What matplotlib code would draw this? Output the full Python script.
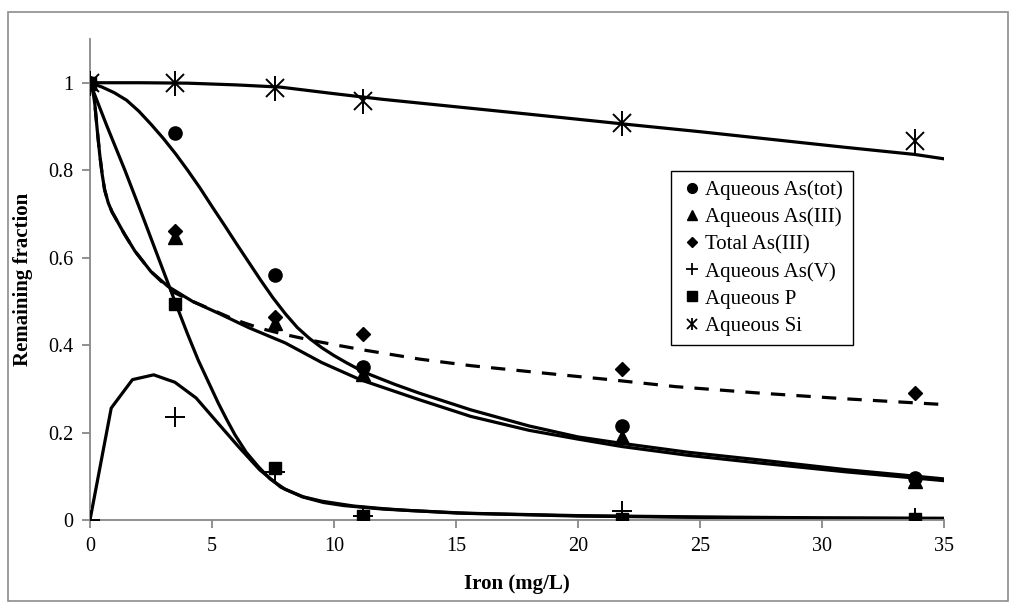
import matplotlib.pyplot as plt
from matplotlib.patches import Rectangle
from matplotlib.legend_handler import HandlerTuple

plt.rcParams['font.family'] = ['Liberation Serif', 'DejaVu Serif']

# measured points
iron = [0, 3.5, 7.6, 11.2, 21.8, 33.8]
as_tot = [1.0, 0.885, 0.56, 0.35, 0.215, 0.095]
as_iii = [1.0, 0.648, 0.45, 0.335, 0.19, 0.09]
total_as_iii = [1.0, 0.66, 0.465, 0.425, 0.345, 0.29]
as_v = [0.0, 0.235, 0.11, 0.01, 0.02, 0.005]
aq_p = [1.0, 0.495, 0.12, 0.01, 0.003, 0.002]
aq_si = [1.0, 1.0, 0.988, 0.958, 0.908, 0.866]

# model curves
si_fit_x = [0, 2, 4, 6, 7.8, 10, 12, 15, 18, 21.8, 25, 28, 31, 33.8, 35]
si_fit_y = [1.0, 1.0, 0.999, 0.995, 0.99, 0.975, 0.962, 0.945, 0.928, 0.906,
            0.888, 0.87, 0.852, 0.836, 0.826]

tot_fit_x = [0, 0.5, 1, 1.5, 2, 2.5, 3, 3.5, 4, 4.5, 5, 5.5, 6, 6.5, 7, 7.5, 8,
             8.5, 9, 9.5, 10, 10.5, 11, 11.5, 12.5, 13.5, 15.6, 18, 20, 21.7,
             24.5, 27.5, 31, 35]
tot_fit_y = [1.0, 0.99, 0.977, 0.96, 0.935, 0.905, 0.873, 0.838, 0.8, 0.76,
             0.717, 0.675, 0.632, 0.59, 0.548, 0.508, 0.472, 0.44, 0.415, 0.394,
             0.376, 0.36, 0.345, 0.332, 0.31, 0.29, 0.252, 0.215, 0.19, 0.176,
             0.155, 0.137, 0.115, 0.094]

iii_fit_x = [0, 0.1, 0.2, 0.3, 0.4, 0.5, 0.6, 0.75, 0.9, 1.1, 1.4, 1.84, 2.5,
             3.2, 4.2, 5.26, 6.5, 8.0, 9.5, 11.07, 13.5, 15.6, 18, 20, 21.8,
             24.5, 27.5, 31, 35]
iii_fit_y = [1.0, 0.99, 0.95, 0.89, 0.835, 0.79, 0.755, 0.725, 0.705, 0.685,
             0.655, 0.615, 0.568, 0.534, 0.5, 0.473, 0.44, 0.405, 0.36, 0.321,
             0.275, 0.237, 0.205, 0.185, 0.168, 0.148, 0.13, 0.11, 0.09]

totiii_fit_x = [0, 0.1, 0.2, 0.3, 0.4, 0.5, 0.6, 0.75, 0.9, 1.1, 1.4, 1.84, 2.5,
                3.35, 4.2, 4.99, 5.94, 7.0, 8.0, 9.15, 10.2, 11.3, 13.5, 15.6,
                19.3, 21.3, 24, 27.5, 31, 35]
totiii_fit_y = [1.0, 0.99, 0.95, 0.89, 0.835, 0.79, 0.755, 0.725, 0.705, 0.685,
                0.655, 0.615, 0.568, 0.523, 0.5, 0.481, 0.458, 0.438, 0.424,
                0.41, 0.399, 0.388, 0.368, 0.353, 0.332, 0.321, 0.305, 0.29,
                0.277, 0.264]

p_fit_x = [0, 0.7, 1.43, 2.19, 2.8, 3.48, 4.0, 4.44, 4.9, 5.26, 5.6, 5.94, 6.4,
           6.9, 7.38, 8.0, 8.74, 9.5, 10.8, 12, 13, 15.6, 20, 25, 30, 35]
p_fit_y = [1.0, 0.9, 0.8, 0.69, 0.6, 0.5, 0.425, 0.365, 0.31, 0.267, 0.23,
           0.195, 0.155, 0.122, 0.094, 0.07, 0.053, 0.043, 0.032, 0.026, 0.022,
           0.015, 0.009, 0.006, 0.004, 0.003]

v_fit_x = [0, 0.87, 1.74, 2.61, 3.48, 4.35, 5.22, 6.08, 6.95, 7.82, 8.7, 9.57,
           10.4, 12, 15, 20, 25, 30, 35]
v_fit_y = [0.0, 0.256, 0.321, 0.332, 0.315, 0.279, 0.223, 0.168, 0.115, 0.075,
           0.053, 0.04, 0.033, 0.025, 0.016, 0.01, 0.007, 0.005, 0.004]

fig = plt.figure(figsize=(10.16, 6.09), dpi=100)
ax = fig.add_axes([90 / 1016, 89 / 609, 854 / 1016, 481 / 609])

# chart area border
fig.patches.append(Rectangle((8 / 1016, 8 / 609), 1000 / 1016, 589 / 609,
                             transform=fig.transFigure, fill=False,
                             edgecolor='#8c8c8c', linewidth=1.2))

lw = 2.3
for fx, fy in [(si_fit_x, si_fit_y), (tot_fit_x, tot_fit_y), (iii_fit_x, iii_fit_y),
               (p_fit_x, p_fit_y), (v_fit_x, v_fit_y)]:
    ax.plot(fx, fy, color='black', lw=lw, solid_joinstyle='round', zorder=2)
ax.plot(totiii_fit_x, totiii_fit_y, color='black', lw=lw, ls=(0, (4.5, 3.5)), zorder=2)

ax.plot(iron, as_tot, 'o', color='black', ms=9.5, ls='none', zorder=3)
ax.plot(iron, as_iii, '^', color='black', ms=9.5, ls='none', zorder=3)
ax.plot(iron, total_as_iii, 'D', color='black', ms=7, ls='none', zorder=3)
ax.plot(iron, as_v, '+', color='black', ms=14, mew=1.4, ls='none', zorder=3)
ax.plot(iron, aq_p, 's', color='black', ms=8.5, ls='none', zorder=3)
ax.plot(iron, aq_si, 'x', color='black', ms=13, mew=1.4, ls='none', zorder=3)
ax.plot(iron, aq_si, '|', color='black', ms=18, mew=1.4, ls='none', zorder=3)

ax.set_xlim(0, 35)
ax.set_ylim(0, 1.1)
ax.set_xticks(range(0, 36, 5))
ax.set_yticks([0, 0.2, 0.4, 0.6, 0.8, 1.0])
ax.set_yticklabels(['0', '0.2', '0.4', '0.6', '0.8', '1'])
for s in ['top', 'right']:
    ax.spines[s].set_visible(False)
for s in ['left', 'bottom']:
    ax.spines[s].set_color('#888888')
    ax.spines[s].set_linewidth(1.3)
ax.tick_params(direction='out', length=6, width=1.3, color='#888888',
               labelsize=14.5, pad=6)
ax.set_xlabel('Iron (mg/L)', fontsize=15, fontweight='bold', labelpad=13)
ax.set_ylabel('Remaining fraction', fontsize=15, fontweight='bold', labelpad=11)

# legend with small marker-only handles
lh_tot, = ax.plot([], [], 'o', color='black', ms=7)
lh_iii, = ax.plot([], [], '^', color='black', ms=7)
lh_totiii, = ax.plot([], [], 'D', color='black', ms=5.5)
lh_v, = ax.plot([], [], '+', color='black', ms=9, mew=1.3)
lh_p, = ax.plot([], [], 's', color='black', ms=7)
lh_si1, = ax.plot([], [], 'x', color='black', ms=7, mew=1.3)
lh_si2, = ax.plot([], [], '|', color='black', ms=9, mew=1.3)

leg = ax.legend([lh_tot, lh_iii, lh_totiii, lh_v, lh_p, (lh_si1, lh_si2)],
                ['Aqueous As(tot)', 'Aqueous As(III)', 'Total As(III)',
                 'Aqueous As(V)', 'Aqueous P', 'Aqueous Si'],
                handler_map={tuple: HandlerTuple(ndivide=1, pad=0)},
                loc='upper left', bbox_to_anchor=(671 / 1016, 1 - 171 / 609),
                bbox_transform=fig.transFigure, borderaxespad=0,
                fontsize=15, frameon=True, fancybox=False, framealpha=1,
                edgecolor='black', handlelength=1.15, handletextpad=0.05,
                labelspacing=0.36, borderpad=0.45)
leg.get_frame().set_linewidth(1.0)

fig.savefig('out.png', dpi=100)
